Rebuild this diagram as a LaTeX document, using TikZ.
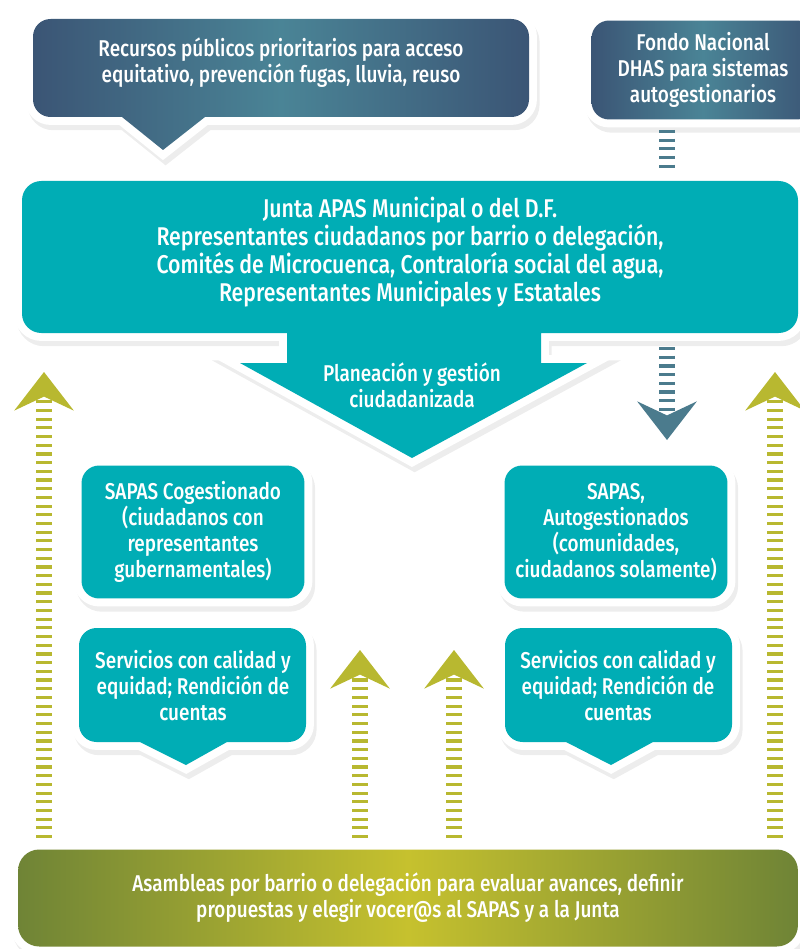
\documentclass[tikz,border=0pt]{standalone}
\usepackage{fontspec}
\setmainfont{Fira Sans Medium}[FakeStretch=0.83]
\usetikzlibrary{arrows.meta}
\usetikzlibrary{positioning}

\definecolor{agua}{HTML}{00ADB5}
\definecolor{azulosc}{HTML}{3B5575}
\definecolor{azulmed}{HTML}{4A8496}
\definecolor{olivo}{HTML}{B8B830}
\definecolor{olivosc}{HTML}{6F8436}
\definecolor{olivocl}{HTML}{C6C12E}
\definecolor{linea}{HTML}{4B7B8D}

\tikzset{
  panel/.style={preaction={fill=black!7,draw=black!7,line width=9pt,
                transform canvas={xshift=1.5pt,yshift=-3pt}},
                preaction={draw=white,line width=9pt}},
  azul/.style={left color=azulosc,right color=azulosc,middle color=azulmed},
  verde/.style={left color=olivosc,right color=olivosc,middle color=olivocl},
  texto/.style={text=white,align=center,font=\fontsize{13}{14.8}\selectfont},
  caja/.style={panel,fill=agua,rounded corners=10pt,
               minimum width=4.46cm,minimum height=2.66cm},
  enlace/.style={line width=9.6pt,dash pattern=on 1.8pt off 3.15pt},
  punta/.style={-{Stealth[length=22pt,width=34pt,inset=8pt,line width=0pt]}},
}

\begin{document}
\begin{tikzpicture}[x=0.02cm,y=-0.02cm]
 \useasboundingbox (0,0) rectangle (800,949);

 % fuentes de recursos
 \path[panel,azul] (163,150) -- (122,117) [rounded corners=10pt] -- (33,117)
    -- (33,19) -- (529,19) -- (529,117) [sharp corners] -- (205,117) -- cycle;
 \node[texto] (recursos) at (281,63)
    {Recursos públicos prioritarios para acceso\\equitativo, prevención fugas, lluvia, reuso};
 \node[panel,azul,texto,rounded corners=10pt,minimum width=4.46cm,
       minimum height=1.98cm] (fondo) at (703,70)
    {Fondo Nacional\\DHAS para sistemas\\autogestionarios};

 % junta
 \path[panel,fill=agua] (412,458) -- (240,363) -- (287,363) -- (287,333)
    [rounded corners=11pt] -- (22,333) -- (22,181) -- (798,181) -- (798,333)
    [sharp corners] -- (541,333) -- (541,363) -- (587,363) -- cycle;
 \node[texto,font=\fontsize{14.6}{15.9}\selectfont] (junta) at (410,252)
    {Junta APAS Municipal o del D.F.\\Representantes ciudadanos por barrio o delegación,\\
     Comités de Microcuenca, Contraloría social del agua,\\Representantes Municipales y Estatales};
 \node[texto] (plan) at (412,385) {Planeación y gestión\\ciudadanizada};

 % sistemas
 \node[caja,texto] (sapasC) at (193,532)
    {SAPAS Cogestionado\\(ciudadanos con\\representantes\\gubernamentales)};
 \node[caja,texto] (sapasA) at (616,532)
    {SAPAS,\\Autogestionados\\(comunidades,\\ciudadanos solamente)};

 % servicios
 \path[panel,fill=agua] (186,765) -- (140,742) [rounded corners=10pt] -- (79,742)
    -- (79,628) -- (306,628) -- (306,742) [sharp corners] -- (227,742) -- cycle;
 \node[texto] (servC) at (193,686)
    {Servicios con calidad y\\equidad; Rendición de\\cuentas};
 \path[panel,fill=agua] (611,765) -- (566,742) [rounded corners=10pt] -- (505,742)
    -- (505,628) -- (732,628) -- (732,742) [sharp corners] -- (653,742) -- cycle;
 \node[texto] (servA) at (618,686)
    {Servicios con calidad y\\equidad; Rendición de\\cuentas};

 % asambleas
 \node[panel,verde,texto,rounded corners=12pt,minimum width=15.6cm,
       minimum height=1.94cm] (asam) at (408,898)
    {Asambleas por barrio o delegación para evaluar avances, definir\\
     propuestas y elegir vocer@s al SAPAS y a la Junta};

 % enlaces
 \coordinate (fin) at (667,168);
 \coordinate (ja) at (667,347);
 \coordinate (baja) at (667,440);
 \coordinate (izq) at (44,372);
 \coordinate (der) at (775,372);
 \coordinate (cen1) at (360,650);
 \coordinate (cen2) at (454,650);
 \draw[enlace,linea,shorten <=0.2cm] (fondo.south -| fin) -- (fin);
 \draw[enlace,linea,punta] (ja) -- (baja);
 \draw[enlace,olivo,punta,shorten <=0.22cm] (izq |- asam.north) -- (izq);
 \draw[enlace,olivo,punta,shorten <=0.22cm] (der |- asam.north) -- (der);
 \draw[enlace,olivo,punta,shorten <=0.22cm] (cen1 |- asam.north) -- (cen1);
 \draw[enlace,olivo,punta,shorten <=0.22cm] (cen2 |- asam.north) -- (cen2);
\end{tikzpicture}
\end{document}
